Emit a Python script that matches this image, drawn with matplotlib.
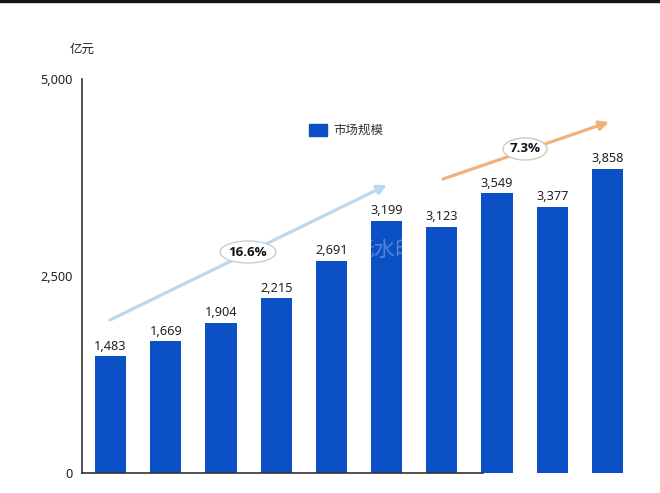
import matplotlib
matplotlib.use("Agg")
import matplotlib.pyplot as plt
from matplotlib.patches import Ellipse, FancyArrowPatch, Rectangle

# only the JP name resolves to the real CJK file here, it has the simplified glyphs too
CJK = "Noto Sans CJK JP"
LATIN = "Noto Sans"
BOLD = "Open Sans"
plt.rcParams["font.family"] = [LATIN]

# data (x labels are blurred out in the reference)
values = [1483, 1669, 1904, 2215, 2691, 3199, 3123, 3549, 3377, 3858]
y_ticks = [0, 2500, 5000]
y_tick_labels = ["0", "2,500", "5,000"]
unit = "亿元"
legend_label = "市场规模"
growth_labels = ["16.6%", "7.3%"]
watermark = "无水印"

W, H = 660, 493
BLUE = "#0b50c4"


def px(x, y):
    # pixel position in the reference -> figure fraction
    return x / W, 1 - y / H


fig = plt.figure(figsize=(W / 100, H / 100), dpi=100)

# top black strip of the screenshot
fig.patches.append(Rectangle((0, 1 - 2 / H), 1, 2 / H, transform=fig.transFigure, color="#151515"))

ax = fig.add_axes([82 / W, 1 - 473 / H, (640 - 82) / W, (473 - 79) / H])
ax.patch.set_alpha(0)

x = list(range(len(values)))
ax.bar(x, values, width=0.565, color=BLUE, zorder=2)
for xi, v in zip(x, values):
    ax.text(xi, v + 45, f"{v:,}", ha="center", va="bottom", fontsize=9.2, color="#222222", zorder=5)

ax.set_xlim(-0.516, 9.59)
ax.set_ylim(0, 5000)
ax.set_yticks(y_ticks)
ax.set_yticklabels(y_tick_labels, fontsize=9.2, color="#222222")
ax.set_xticks([])
ax.tick_params(axis="y", length=0, pad=7)

for side in ["top", "right"]:
    ax.spines[side].set_visible(False)
for side in ["left", "bottom"]:
    ax.spines[side].set_color("#333333")
    ax.spines[side].set_linewidth(1.2)
ax.spines["bottom"].set_bounds(-0.516, 6.75)

fig.text(*px(82, 49), unit, ha="center", va="center", fontsize=9, color="#222222", family=CJK)

# legend
fig.patches.append(Rectangle(px(309, 136), 18 / W, 12 / H, transform=fig.transFigure, color=BLUE))
fig.text(*px(333, 130.5), legend_label, ha="left", va="center", fontsize=9, color="#333333", family=CJK)

# growth arrows
arrows = [
    ((110, 320), (387, 185), "#bcd8ec"),
    ((443, 179), (609, 122), "#f0b27a"),
]
for start, end, color in arrows:
    fig.add_artist(FancyArrowPatch(
        px(*start), px(*end), transform=fig.transFigure,
        arrowstyle="-|>,head_length=0.4,head_width=0.2", mutation_scale=14,
        shrinkA=0, shrinkB=0, linewidth=2.3, color=color, zorder=3))

bubbles = [
    (248, 252, 56, 22, "#c9ced4", growth_labels[0]),
    (525, 149, 44, 22, "#d9c6b4", growth_labels[1]),
]
for cx, cy, w, h, edge, label in bubbles:
    fig.add_artist(Ellipse(px(cx, cy), w / W, h / H, transform=fig.transFigure,
                           facecolor="white", edgecolor=edge, linewidth=1, zorder=4))
    fig.text(*px(cx, cy), label, ha="center", va="center", fontsize=9.6,
             fontweight="bold", color="#111111", zorder=5, family=BOLD)

# faint watermark, only the part clear of the 2,691 label
fig.text(*px(353, 250), watermark, ha="left", va="center", fontsize=15,
         color="white", alpha=0.3, zorder=6, family=CJK)

fig.savefig("out.png", dpi=100)
